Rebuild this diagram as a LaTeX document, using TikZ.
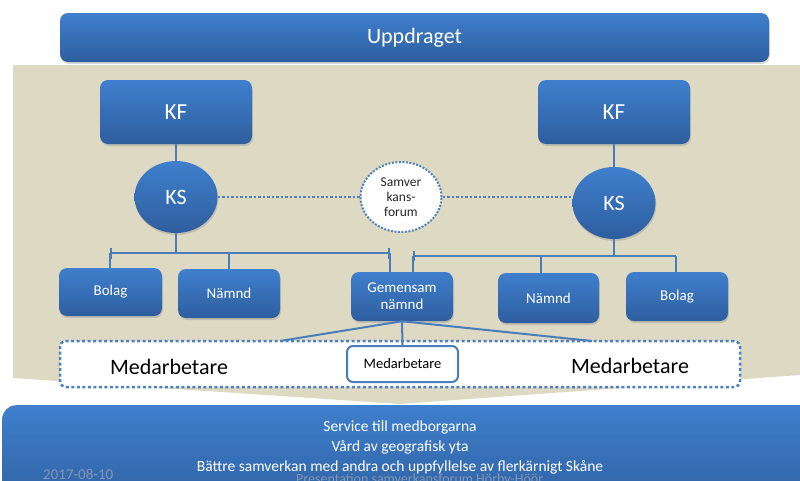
\documentclass[tikz,border=0pt]{standalone}
\usepackage{fontspec}
\setmainfont{Carlito}
\usetikzlibrary{shadows,arrows.meta,shapes.geometric}
\definecolor{beige}{HTML}{DDD9C3}
\definecolor{bluetop}{HTML}{3F7FCD}
\definecolor{bluebot}{HTML}{2E5E9E}
\definecolor{lineblue}{HTML}{4A7EBB}
\definecolor{dotblue}{HTML}{4F81BD}
\definecolor{footgray}{HTML}{8496B0}
\begin{document}
\begin{tikzpicture}[x=1pt,y=-1pt,
  bluebox/.style={rounded corners=8pt, top color=bluetop, bottom color=bluebot, draw=none,
    text=white, align=center, inner sep=0pt,
    drop shadow={opacity=0.3,shadow xshift=0.8pt,shadow yshift=-2pt}},
  blueell/.style={ellipse, top color=bluetop, bottom color=bluebot, draw=none,
    text=white, inner sep=0pt,
    drop shadow={opacity=0.3,shadow xshift=0.8pt,shadow yshift=-2pt}},
  smalltxt/.style={font=\fontsize{15}{18}\selectfont},
  tree/.style={draw=lineblue, line width=2.5pt},
  dotline/.style={draw=dotblue, line width=2.5pt, dash pattern=on 2.5pt off 2pt},
  svctxt/.style={text=white, anchor=base, inner sep=0pt, font=\fontsize{15.5}{18}\selectfont}
]
\clip (0,0) rectangle (800,480);
\fill[white] (0,0) rectangle (800,480);
% beige background panel
\fill[beige] (13,65) -- (800,65) -- (800,375) -- (400,404) -- (13,378) -- cycle;

% top box
\node[bluebox, minimum width=709pt, minimum height=49pt, font=\fontsize{22}{26}\selectfont] (upp) at (414.5,37.5) {Uppdraget};

% KF / KS
\node[bluebox, minimum width=152pt, minimum height=64pt, font=\fontsize{23}{26}\selectfont] (kfL) at (176,112) {KF};
\node[bluebox, minimum width=152pt, minimum height=64pt, font=\fontsize{23}{26}\selectfont] (kfR) at (614,112) {KF};
\node[blueell, minimum width=83pt, minimum height=72pt, font=\fontsize{22}{26}\selectfont] (ksL) at (176,197) {KS};
\node[blueell, minimum width=83pt, minimum height=72pt, font=\fontsize{22}{26}\selectfont] (ksR) at (614,203) {KS};

% samverkansforum
\node[ellipse, fill=white, draw=dotblue, line width=2pt, dash pattern=on 2pt off 1.5pt,
  minimum width=81pt, minimum height=70pt, inner sep=0pt, align=center,
  text=black!85, font=\fontsize{13.5}{15}\selectfont] (samv) at (401,197) {Samver\\kans-\\forum};

% lower boxes
\node[bluebox, smalltxt, minimum width=103pt, minimum height=48pt] (bolagL) at (110.5,292) {Bolag};
\node[bluebox, smalltxt, minimum width=102pt, minimum height=49pt] (namndL) at (229,293.5) {Nämnd};
\node[bluebox, smalltxt, minimum width=102pt, minimum height=49pt] (gem) at (402,296.5) {Gemensam\\[-1pt]nämnd};
\node[bluebox, smalltxt, minimum width=101pt, minimum height=50pt] (namndR) at (548.5,298) {Nämnd};
\node[bluebox, smalltxt, minimum width=102pt, minimum height=49pt] (bolagR) at (677,296.5) {Bolag};

% medarbetare band
\node[rounded corners=6pt, fill=white, draw=dotblue, line width=2.5pt, dash pattern=on 3pt off 2.5pt,
  minimum width=680pt, minimum height=46pt] (band) at (400,364) {};
\node[font=\fontsize{22}{26}\selectfont, text=black, inner sep=0pt] (medL) at (169,367) {Medarbetare};
\node[font=\fontsize{22}{26}\selectfont, text=black, inner sep=0pt] (medR) at (630,366) {Medarbetare};
\node[rounded corners=6pt, fill=white, draw=lineblue, line width=2pt, minimum width=111pt, minimum height=36pt,
  font=\fontsize{14.5}{17}\selectfont, text=black, inner sep=0pt] (medS) at (402.5,364) {Medarbetare};

% connectors
\draw[tree] (kfL.south) -- (ksL.north);
\draw[tree] (kfR.south) -- (ksR.north);
\draw[dotline] (ksL.east) -- (samv.west);
\draw[dotline] (samv.east) -- (ksR.west |- samv.east);

\coordinate (lb1) at (110,253);
\coordinate (lb2) at (229,253);
\coordinate (lb3) at (390,253);
\draw[tree, {Bar[width=11pt,line width=2pt]}-{Bar[width=11pt,line width=2pt]}] (lb1) -- (lb3);
\draw[tree] (ksL.south) -- (ksL.south |- lb1);
\draw[tree] (lb1) -- (lb1 |- bolagL.north);
\draw[tree] (lb2) -- (lb2 |- namndL.north);
\draw[tree] (lb3) -- (lb3 |- gem.north);

\coordinate (rb1) at (413,256);
\coordinate (rb2) at (541,256);
\coordinate (rb3) at (676,256);
\draw[tree, {Bar[width=10pt,line width=2pt]}-] (rb1) -- (rb3);
\draw[tree] (ksR.south) -- (ksR.south |- rb1);
\draw[tree] (rb1) -- (rb1 |- gem.north);
\draw[tree] (rb2) -- (rb2 |- namndR.north);
\draw[tree] (rb3) -- (rb3 |- bolagR.north);

\coordinate (bandL) at (280,341);
\coordinate (bandR) at (592,341);
\draw[draw=lineblue, line width=2pt] (gem.south) -- (bandL);
\draw[draw=lineblue, line width=2pt] (gem.south) -- (bandR);
\draw[draw=lineblue, line width=2pt] (gem.south) -- (medS.north);

% bottom box
\node[bluebox, rounded corners=14pt, minimum width=830pt, minimum height=110pt, anchor=north west] (bot) at (2,405) {};
\node[svctxt] (svc1) at (400,431) {Service till medborgarna};
\node[svctxt] (svc2) at (400,451) {Vård av geografisk yta};
\node[svctxt] (svc3) at (400,471) {Bättre samverkan med andra och uppfyllelse av flerkärnigt Skåne};
\node[anchor=base west, inner sep=0pt, text=footgray, font=\fontsize{15}{18}\selectfont] (date) at (43,479) {2017-08-10};
\node[anchor=base west, inner sep=0pt, text=footgray, font=\fontsize{14}{17}\selectfont] (pres) at (296,483) {Presentation samverkansforum Hörby-Höör};
\end{tikzpicture}
\end{document}
